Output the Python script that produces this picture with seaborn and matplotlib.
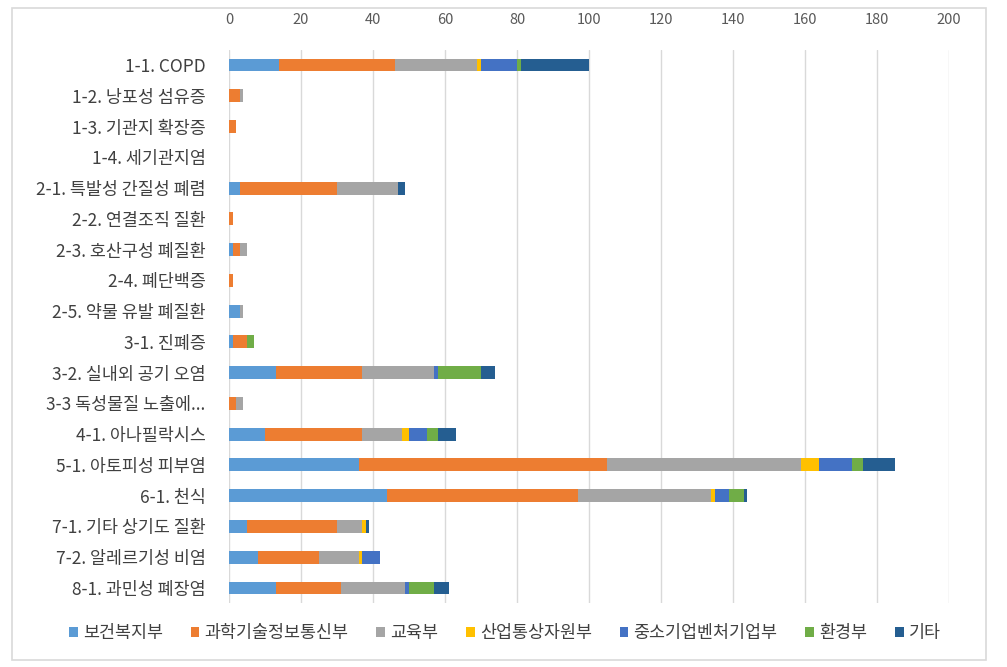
import matplotlib
matplotlib.use("Agg")
import matplotlib.pyplot as plt
import seaborn as sns
import pandas as pd
import numpy as np
from matplotlib.patches import Rectangle

categories = ["1-1. COPD", "1-2. 낭포성 섬유증", "1-3. 기관지 확장증", "1-4. 세기관지염",
              "2-1. 특발성 간질성 폐렴", "2-2. 연결조직 질환", "2-3. 호산구성 폐질환",
              "2-4. 폐단백증", "2-5. 약물 유발 폐질환", "3-1. 진폐증", "3-2. 실내외 공기 오염",
              "3-3 독성물질 노출에...", "4-1. 아나필락시스", "5-1. 아토피성 피부염", "6-1. 천식",
              "7-1. 기타 상기도 질환", "7-2. 알레르기성 비염", "8-1. 과민성 폐장염"]

series_names = ["보건복지부", "과학기술정보통신부", "교육부", "산업통상자원부", "중소기업벤처기업부", "환경부", "기타"]

v_health  = [14, 0, 0, 0, 3, 0, 1, 0, 3, 1, 13, 0, 10, 36, 44, 5, 8, 13]
v_science = [32, 3, 2, 0, 27, 1, 2, 1, 0, 4, 24, 2, 27, 69, 53, 25, 17, 18]
v_edu     = [23, 1, 0, 0, 17, 0, 2, 0, 1, 0, 20, 2, 11, 54, 37, 7, 11, 18]
v_industry= [1, 0, 0, 0, 0, 0, 0, 0, 0, 0, 0, 0, 2, 5, 1, 1, 1, 0]
v_sme     = [10, 0, 0, 0, 0, 0, 0, 0, 0, 0, 1, 0, 5, 9, 4, 0, 5, 1]
v_env     = [1, 0, 0, 0, 0, 0, 0, 0, 0, 2, 12, 0, 3, 3, 4, 0, 0, 7]
v_other   = [19, 0, 0, 0, 2, 0, 0, 0, 0, 0, 4, 0, 5, 9, 1, 1, 0, 4]

colors = ["#5B9BD5", "#ED7D31", "#A5A5A5", "#FFC000", "#4472C4", "#70AD47", "#255E91"]

values = [v_health, v_science, v_edu, v_industry, v_sme, v_env, v_other]

sns.set_theme(style="white")
plt.rcParams['font.family'] = ['Noto Sans CJK KR', 'DejaVu Sans']

fig = plt.figure(figsize=(10.07, 6.67), dpi=100)
ax = fig.add_axes([229/1007, 1 - 603.4/667, 720/1007, (603.4-49.6)/667])

cum = np.zeros(len(categories))
cums = []
for v in values:
    cum = cum + np.array(v, dtype=float)
    cums.append(cum.copy())

for name, col, c in reversed(list(zip(series_names, colors, cums))):
    df = pd.DataFrame({"cat": categories, "val": c})
    sns.barplot(data=df, y="cat", x="val", color=col, orient="h", width=0.42,
                ax=ax, label=name, saturation=1, linewidth=0)

handles, labels = ax.get_legend_handles_labels()
if ax.get_legend() is not None:
    ax.get_legend().remove()

ax.set_xlim(0, 200)
ax.set_ylim(len(categories) - 0.5, -0.5)
ax.set_xticks(np.arange(0, 201, 20))
ax.xaxis.tick_top()
ax.xaxis.set_label_position("top")
ax.set_xlabel("")
ax.set_ylabel("")
ax.grid(axis="x", color="#D9D9D9", linewidth=1)
ax.set_axisbelow(True)
for s in ax.spines.values():
    s.set_visible(False)
ax.tick_params(axis="x", length=0, pad=16, labelsize=10.5, labelcolor="#595959")
ax.tick_params(axis="y", length=0, pad=17, labelsize=12.5, labelcolor="#404040")

order = [labels.index(n) for n in series_names]
fig.legend([handles[i] for i in order], [labels[i] for i in order],
           loc="center", bbox_to_anchor=(505/1007, 1 - 633/667), ncol=7,
           frameon=False, fontsize=12.5, handlelength=0.5, handleheight=0.5,
           handletextpad=0.3, columnspacing=1.6, labelcolor="#404040")

fig.patches.append(Rectangle((12/1007, 1 - 660/667), (986-12)/1007, (660-8)/667,
                             transform=fig.transFigure, fill=False,
                             edgecolor="#D9D9D9", linewidth=1.2))

fig.savefig("out.png", dpi=100, facecolor="white")
